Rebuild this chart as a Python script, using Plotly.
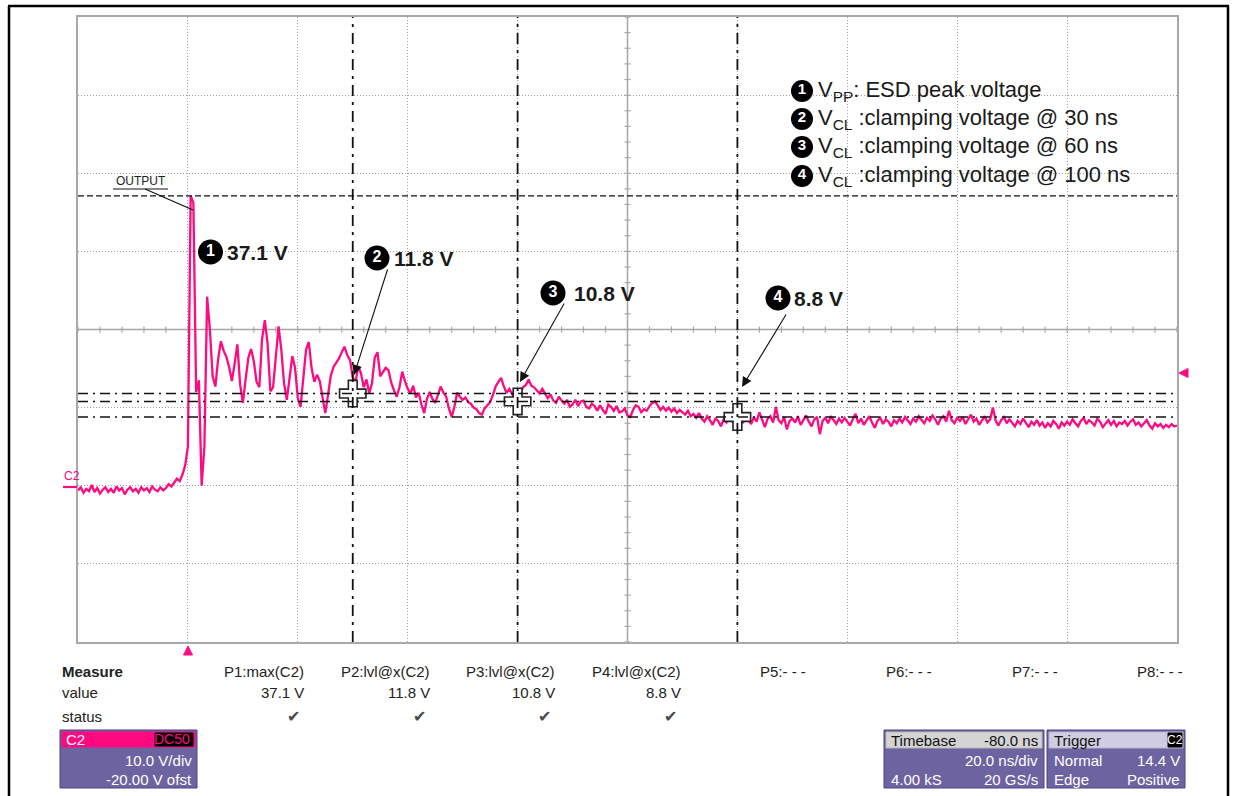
import plotly.graph_objects as go

# ---------------- data ----------------
T_START_NS = -20.0          # first sample time (ns)
T_STEP_NS = 0.5             # sample spacing of the transcribed trace (ns)
V_C2 = [
    # -20 .. -10.5 ns
    -0.6, -0.2, -0.9, -0.4, -0.7, 0.1, -0.8, -0.3, -1.0, -0.5, -0.2, -0.8, -0.4, -0.9, -0.1, -0.6, -0.3, -1.1, -0.5, -0.2,
    # -10 .. -0.5 ns
    -0.7, -0.4, -0.9, -0.2, -0.6, -0.3, -0.8, -0.1, -0.5, -0.7, -0.2, -0.6, -0.3, 0.2, -0.1, 0.4, 0.9, 0.6, 1.4, 2.6,
    # 0 .. 9.5 ns
    5.0, 37.1, 36.2, 12.0, 13.5, 0.0, 5.0, 24.2, 20.0, 14.0, 12.7, 16.2, 18.5, 17.3, 16.5, 15.2, 13.4, 15.6, 18.1, 13.0,
    # 10 .. 19.5 ns
    10.6, 13.6, 16.4, 17.5, 15.9, 13.3, 12.6, 18.8, 21.2, 18.2, 12.1, 12.6, 17.1, 20.4, 17.4, 13.1, 11.0, 13.7, 16.6, 15.1,
    # 20 .. 29.5 ns
    11.2, 10.1, 14.2, 17.4, 18.4, 15.1, 13.3, 14.2, 13.4, 11.1, 9.3, 11.6, 14.1, 15.2, 15.7, 16.3, 17.1, 17.8, 16.7, 16.1,
    # 30 .. 39.5 ns
    13.9, 13.2, 15.3, 14.4, 12.6, 13.6, 11.8, 13.1, 16.4, 17.1, 14.0, 14.6, 15.1, 14.8, 13.2, 12.2, 11.4, 12.6, 14.6, 13.4,
    # 40 .. 49.5 ns
    12.4, 11.8, 12.8, 11.3, 11.9, 10.4, 9.3, 11.1, 12.0, 11.1, 10.6, 11.6, 12.7, 11.9, 11.4, 9.9, 8.8, 10.1, 11.9, 11.4,
    # 50 .. 59.5 ns
    11.0, 11.3, 10.7, 10.5, 10.0, 9.8, 9.3, 9.1, 9.9, 10.3, 10.7, 11.6, 12.7, 13.3, 13.8, 12.7, 11.9, 12.4, 11.8, 11.1,
    # 60 .. 69.5 ns
    11.4, 11.9, 12.6, 12.9, 13.6, 12.8, 12.6, 12.2, 11.8, 12.4, 11.8, 11.2, 11.7, 10.9, 10.6, 11.4, 10.9, 10.5, 11.0, 10.1,
    # 70 .. 79.5 ns
    10.4, 11.0, 10.2, 10.8, 10.9, 10.1, 9.9, 10.5, 10.2, 9.6, 10.3, 9.7, 9.2, 10.4, 10.1, 9.6, 10.2, 9.4, 9.5, 9.9,
    # 80 .. 89.5 ns
    9.0, 8.8, 9.7, 10.3, 10.1, 9.4, 9.8, 9.6, 10.2, 10.6, 10.8, 10.3, 9.7, 10.1, 9.6, 10.0, 9.5, 9.9, 9.3, 9.7,
    # 90 .. 99.5 ns
    9.4, 9.1, 9.6, 8.9, 9.2, 8.7, 9.3, 8.6, 8.2, 8.9, 8.4, 7.8, 8.6, 8.3, 7.6, 8.5, 8.1, 8.9, 8.4, 7.7,
    # 100 .. 109.5 ns
    8.3, 8.7, 8.0, 9.1, 8.4, 7.9, 8.8, 8.2, 9.4, 8.5, 7.5, 8.6, 8.9, 8.1, 10.1, 8.4, 8.0, 8.8, 7.2, 8.3,
    # 110 .. 119.5 ns
    8.6, 8.1, 8.9, 7.8, 8.4, 9.0, 8.2, 7.6, 8.5, 8.8, 6.6, 8.3, 8.7, 8.0, 8.9, 8.4, 7.9, 8.6, 8.1, 8.7,
    # 120 .. 129.5 ns
    8.2, 7.7, 8.5, 9.2, 8.0, 8.6, 7.8, 8.4, 8.9, 8.1, 7.4, 8.3, 8.7, 7.9, 8.5, 8.2, 7.6, 8.4, 8.0, 8.6,
    # 130 .. 139.5 ns
    8.1, 8.8, 8.3, 7.9, 8.6, 8.2, 8.9, 8.4, 8.0, 8.7, 8.3, 9.0, 8.5, 7.8, 8.6, 8.9, 8.2, 9.6, 8.4, 8.0,
    # 140 .. 149.5 ns
    8.7, 8.3, 8.8, 7.9, 8.5, 9.1, 8.2, 8.6, 7.8, 8.4, 8.9, 8.1, 8.5, 10.0, 8.3, 7.7, 8.4, 8.8, 8.0, 8.5,
    # 150 .. 159.5 ns
    8.1, 7.6, 8.3, 7.9, 8.6, 8.0, 7.5, 8.2, 7.8, 8.4, 7.7, 8.1, 7.4, 8.0, 7.6, 8.3, 7.9, 7.3, 8.1, 7.7,
    # 160 .. 169.5 ns
    8.2, 7.8, 8.5, 8.0, 7.6, 8.3, 8.7, 7.9, 8.4, 8.1, 7.7, 8.6, 8.2, 7.5, 8.0, 8.4, 7.8, 8.3, 7.6, 8.1,
    # 170 .. 180 ns
    7.9, 8.3, 7.7, 8.2, 8.5, 7.8, 8.1, 7.6, 8.0, 8.4, 7.7, 7.3, 8.0, 7.6, 7.9, 7.4, 7.8, 7.5, 7.9, 7.6, 7.7,
]
T_C2 = [T_START_NS + i * T_STEP_NS for i in range(len(V_C2))]

PEAK_V = 37.1
CURSOR_T = [30, 60, 100]
CURSOR_V = [11.8, 10.8, 8.8]
TRIG_LEVEL_V = 14.4
TRIG_T = 0

X_RANGE = [-20, 180]        # 20 ns/div, 10 div
Y_RANGE = [-20, 60]         # 10 V/div, 8 div

LABEL_NUMS = ["1", "2", "3", "4"]
LABEL_VALUES = ["37.1 V", "11.8 V", "10.8 V", "8.8 V"]
LEGEND_TEXTS = [
    "V<sub>PP</sub>: ESD peak voltage",
    "V<sub>CL</sub> :clamping voltage @ 30 ns",
    "V<sub>CL</sub> :clamping voltage @ 60 ns",
    "V<sub>CL</sub> :clamping voltage @ 100 ns",
]
MEASURE_HEADERS = ["P1:max(C2)", "P2:lvl@x(C2)", "P3:lvl@x(C2)", "P4:lvl@x(C2)",
                   "P5:- - -", "P6:- - -", "P7:- - -", "P8:- - -"]
MEASURE_VALUES = ["37.1 V", "11.8 V", "10.8 V", "8.8 V", "", "", "", ""]
MEASURE_STATUS = ["✔", "✔", "✔", "✔", "", "", "", ""]

# ---------------- geometry helpers ----------------
W, H = 1234, 796
PL, PR, PT, PB = 78, 1177, 17, 642
PINK = "#ff0a80"
PURPLE = "#6d63a1"
FONT = "Liberation Sans, Arial, DejaVu Sans, sans-serif"


def xp(px):
    return (px - PL) / (PR - PL)


def yp(py):
    return (PB - py) / (PB - PT)


def tx(px):  # pixel -> ns
    return X_RANGE[0] + (px - PL) / (PR - PL) * (X_RANGE[1] - X_RANGE[0])


def vy(py):  # pixel -> volts
    return Y_RANGE[1] - (py - PT) / (PB - PT) * (Y_RANGE[1] - Y_RANGE[0])


fig = go.Figure()

fig.add_trace(go.Scatter(
    x=T_C2, y=V_C2, mode="lines",
    line=dict(color=PINK, width=2.3), hoverinfo="skip", showlegend=False,
))

# cursor crosses
fig.add_trace(go.Scatter(
    x=CURSOR_T, y=CURSOR_V, mode="markers",
    marker=dict(symbol="cross", size=22, color="white",
                line=dict(color="#222", width=1.6)),
    hoverinfo="skip", showlegend=False,
))

# circled numbers (black disc with white digit)
LABEL_CIRCLES = [(210.5, 252), (377, 258), (553, 293), (778, 298)]
LEGEND_Y = [91, 119, 147, 176]
LEGEND_CIRCLES = [(802, y) for y in LEGEND_Y]
circ_xy = LABEL_CIRCLES + LEGEND_CIRCLES
circ_size = [25] * 4 + [22] * 4
circ_font = [16] * 4 + [15] * 4
fig.add_trace(go.Scatter(
    x=[tx(c[0]) for c in circ_xy], y=[vy(c[1]) for c in circ_xy],
    mode="markers", marker=dict(symbol="circle", size=circ_size, color="#000000", opacity=1,
                                line=dict(width=0)),
    cliponaxis=False, hoverinfo="skip", showlegend=False,
))
fig.add_trace(go.Scatter(
    x=[tx(c[0]) for c in circ_xy], y=[vy(c[1] - 0.5) for c in circ_xy],
    mode="text", text=["<b>" + n + "</b>" for n in LABEL_NUMS + LABEL_NUMS],
    textposition="middle center",
    textfont=dict(color="white", size=circ_font, family=FONT),
    cliponaxis=False, hoverinfo="skip", showlegend=False,
))

shapes = []
# center solid axes
shapes.append(dict(type="line", xref="x", yref="y", x0=80, x1=80, y0=Y_RANGE[0], y1=Y_RANGE[1],
                   line=dict(color="#a8a8a8", width=1.5), layer="below"))
shapes.append(dict(type="line", xref="x", yref="y", x0=X_RANGE[0], x1=X_RANGE[1], y0=20, y1=20,
                   line=dict(color="#a8a8a8", width=1.5), layer="below"))
# minor ticks on center axes
for k in range(51):
    xt = X_RANGE[0] + 4 * k
    shapes.append(dict(type="line", xref="x", yref="y", x0=xt, x1=xt, y0=19.6, y1=20.4,
                       line=dict(color="#a8a8a8", width=1.2), layer="below"))
for k in range(41):
    yt = Y_RANGE[0] + 2 * k
    shapes.append(dict(type="line", xref="x", yref="y", x0=79.45, x1=80.55, y0=yt, y1=yt,
                       line=dict(color="#a8a8a8", width=1.2), layer="below"))

# peak level cursor (dashed)
shapes.append(dict(type="line", xref="x", yref="y", x0=X_RANGE[0], x1=X_RANGE[1], y0=PEAK_V, y1=PEAK_V,
                   line=dict(color="#111", width=1.4, dash="6px,3px")))
# horizontal clamp level cursors
for v in CURSOR_V:
    shapes.append(dict(type="line", xref="x", yref="y", x0=X_RANGE[0], x1=X_RANGE[1], y0=v, y1=v,
                       line=dict(color="#111", width=1.5, dash="10px,5px,2px,5px")))
# vertical time cursors
for t in CURSOR_T:
    shapes.append(dict(type="line", xref="x", yref="y", x0=t, x1=t, y0=Y_RANGE[0], y1=Y_RANGE[1],
                       line=dict(color="#111", width=1.8, dash="11px,6px,3px,6px")))

# OUTPUT underline and leader
shapes.append(dict(type="line", xref="x", yref="y", x0=tx(113), x1=tx(168), y0=vy(189), y1=vy(189),
                   line=dict(color="#111", width=1.2)))
shapes.append(dict(type="line", xref="x", yref="y", x0=tx(145), x1=tx(193), y0=vy(189), y1=vy(210),
                   line=dict(color="#111", width=1.2)))

# C2 ground marker
shapes.append(dict(type="line", xref="paper", yref="paper", x0=xp(63), x1=xp(77), y0=yp(487), y1=yp(487),
                   line=dict(color=PINK, width=2.2)))

# trigger position / level markers (pink triangles outside the grid)
shapes.append(dict(type="path", xref="paper", yref="paper", fillcolor=PINK, line=dict(color=PINK, width=1),
                   path="M {} {} L {} {} L {} {} Z".format(xp(188), yp(646), xp(183.5), yp(655), xp(192.5), yp(655))))
shapes.append(dict(type="path", xref="paper", yref="paper", fillcolor=PINK, line=dict(color=PINK, width=1),
                   path="M {} {} L {} {} L {} {} Z".format(xp(1179), yp(373), xp(1188), yp(368.5), xp(1188), yp(377.5))))

# outer black document frame
shapes.append(dict(type="line", xref="paper", yref="paper", x0=xp(9), x1=xp(9), y0=yp(6), y1=yp(800),
                   line=dict(color="black", width=2.5)))
shapes.append(dict(type="line", xref="paper", yref="paper", x0=xp(8), x1=xp(1229), y0=yp(6), y1=yp(6),
                   line=dict(color="black", width=2.5)))
shapes.append(dict(type="line", xref="paper", yref="paper", x0=xp(1228), x1=xp(1228), y0=yp(6), y1=yp(800),
                   line=dict(color="black", width=2.5)))


def box(x0, y0, x1, y1, fill, line_color=None):
    shapes.append(dict(type="rect", xref="paper", yref="paper",
                       x0=xp(x0), x1=xp(x1), y0=yp(y1), y1=yp(y0),
                       fillcolor=fill, line=dict(color=line_color or fill, width=1)))


# channel box
box(60, 730, 197, 788, PURPLE, "#4c4386")
box(62, 732, 195, 747, PINK)
box(155, 733, 193, 746, "black")
# timebase box
box(884, 730, 1044, 788, PURPLE, "#4c4386")
box(886, 732, 1042, 748, "#d4d4d4", "#b8b8b8")
# trigger box
box(1047, 730, 1185, 788, PURPLE, "#4c4386")
box(1049, 732, 1183, 748, "#d0cde2", "#b8b5cc")
box(1168, 733, 1182, 747, "black")

annotations = []


def text(px, py, s, size=15, color="#222", anchor="left", bold=False, family=FONT):
    if bold:
        s = "<b>" + s + "</b>"
    annotations.append(dict(xref="paper", yref="paper", x=xp(px), y=yp(py), text=s,
                            showarrow=False, xanchor=anchor, yanchor="middle",
                            font=dict(size=size, color=color, family=family)))


# value labels on the plot
LABEL_TEXT_X = [225, 392, 572, 792]
for px, (cx, cy), val in zip(LABEL_TEXT_X, LABEL_CIRCLES, LABEL_VALUES):
    text(px, cy, val, size=21, color="#1a1a1a", bold=True)

# arrows pointing at the cursor crosses
ARROWS = [((388, 268), (354, 375)), ((565, 302), (520, 382)), ((787, 313), (742, 387))]
for (tx0, ty0), (hx, hy) in ARROWS:
    annotations.append(dict(xref="x", yref="y", axref="x", ayref="y",
                            x=tx(hx), y=vy(hy), ax=tx(tx0), ay=vy(ty0), text="",
                            showarrow=True, arrowhead=2, arrowsize=1.8, arrowwidth=1.1,
                            arrowcolor="#111", standoff=0))

# OUTPUT label
text(141, 181, "OUTPUT", size=12, color="#222", anchor="center")

# legend text
for py, s in zip(LEGEND_Y, LEGEND_TEXTS):
    text(816, py, s, size=22, color="#1a1a1a")

# C2 label on left
text(62, 476, "C2", size=12, color=PINK)

# measurement panel
text(60, 671, "Measure", size=15, bold=True)
text(60, 692, "value", size=15)
text(60, 716, "status", size=15)
for k, (hdr, val, st) in enumerate(zip(MEASURE_HEADERS, MEASURE_VALUES, MEASURE_STATUS)):
    right = 306 + 125.6 * k
    text(right, 671, hdr, size=15, anchor="right")
    if val:
        text(right, 692, val, size=15, anchor="right")
    if st:
        text(right - 4, 716, st, size=16, color="#4a4a4a", anchor="right")

# channel box text
text(64, 739, "C2", size=15, color="white")
text(192, 739, "DC50", size=14, color=PINK, anchor="right")
text(194, 761, "10.0 V/div", size=15, color="white", anchor="right")
text(194, 779, "-20.00 V ofst", size=15, color="white", anchor="right")
# timebase box text
text(889, 740, "Timebase", size=15, color="#111")
text(1040, 740, "-80.0 ns", size=15, color="#111", anchor="right")
text(1040, 761, "20.0 ns/div", size=15, color="white", anchor="right")
text(889, 779, "4.00 kS", size=15, color="white")
text(1040, 779, "20 GS/s", size=15, color="white", anchor="right")
# trigger box text
text(1052, 740, "Trigger", size=15, color="#111")
text(1175, 740, "C2", size=12, color="white", anchor="center")
text(1052, 761, "Normal", size=15, color="white")
text(1182, 761, "14.4 V", size=15, color="white", anchor="right")
text(1052, 779, "Edge", size=15, color="white")
text(1182, 779, "Positive", size=15, color="white", anchor="right")

fig.update_layout(
    width=W, height=H, autosize=False,
    margin=dict(l=PL, r=W - PR, t=PT, b=H - PB, pad=0),
    paper_bgcolor="white", plot_bgcolor="white",
    font=dict(family=FONT, color="#222"),
    shapes=shapes, annotations=annotations, showlegend=False,
    xaxis=dict(range=X_RANGE, dtick=20, tick0=-20, showticklabels=False, ticks="",
               showgrid=True, gridcolor="#a0a0a0", griddash="1px,2px", gridwidth=1,
               zeroline=False, showline=True, linecolor="#a8a8a8", linewidth=2, mirror=True,
               fixedrange=True),
    yaxis=dict(range=Y_RANGE, dtick=10, tick0=-20, showticklabels=False, ticks="",
               showgrid=True, gridcolor="#a0a0a0", griddash="1px,2px", gridwidth=1,
               zeroline=False, showline=True, linecolor="#a8a8a8", linewidth=2, mirror=True,
               fixedrange=True),
)

fig.write_html("out.html", config={"staticPlot": True},
               post_script="document.body.style.margin='0';")
